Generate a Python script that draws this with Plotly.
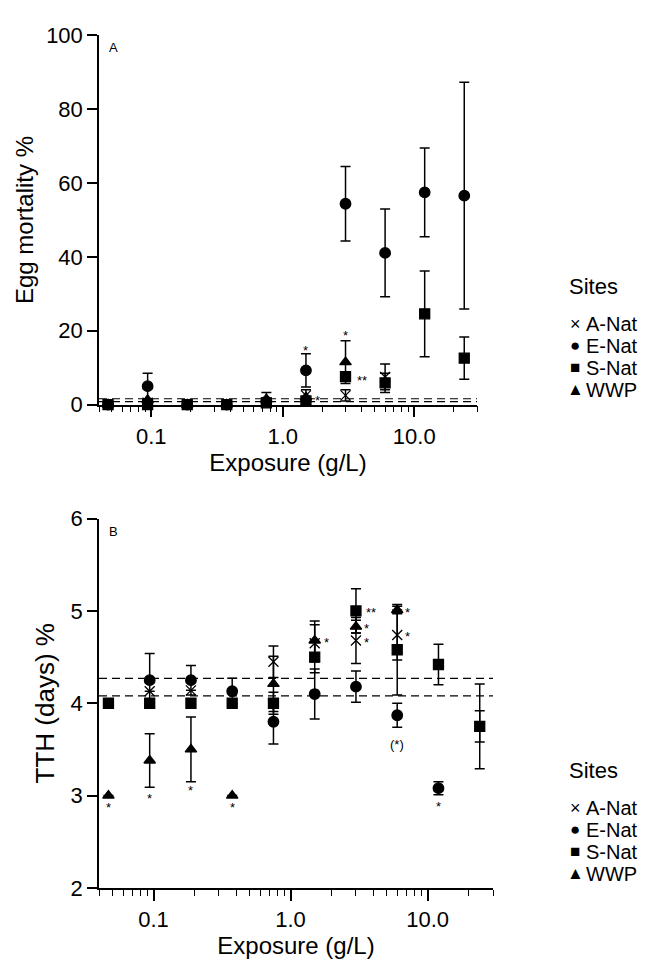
import math
import plotly.graph_objects as go

# ---------------- data ----------------
exposure = [0.046875, 0.09375, 0.1875, 0.375, 0.75, 1.5, 3.0, 6.0, 12.0, 24.0]
sites = ["A-Nat", "E-Nat", "S-Nat", "WWP"]

# Panel A: egg mortality %
mort_a_nat = [0, 0.5, 0, 0, 0.5, 2.5, 2.5, 7.5, None, None]
mort_a_nat_err = [None, None, None, None, None, 1.5, 1.5, 3.5, None, None]
mort_e_nat = [0, 5.0, 0, 0, 0.8, 9.3, 54.4, 41.1, 57.5, 56.6]
mort_e_nat_err = [None, 3.5, None, None, None, 4.5, 10.1, 11.9, 12.0, 30.7]
mort_s_nat = [0, 0, 0, 0, 0.5, 1.0, 7.6, 5.9, 24.6, 12.6]
mort_s_nat_err = [None, None, None, None, None, None, None, 2.6, 11.6, 5.7]
mort_wwp = [0, 1.3, 0, 0, 1.5, 2.0, 11.5, None, None, None]
mort_wwp_err = [None, None, None, None, 1.8, None, 5.8, None, None, None]
mort_control = [0.8, 1.6]

# Panel B: time to hatch (days)
tth_a_nat = [None, 4.13, 4.14, None, 4.45, 4.65, 4.68, 4.74, None, 3.75]
tth_a_nat_err = [None, None, None, None, 0.17, 0.2, 0.25, 0.27, None, 0.17]
tth_e_nat = [None, 4.25, 4.25, 4.13, 3.80, 4.10, 4.18, 3.87, 3.08, None]
tth_e_nat_err = [None, 0.29, 0.16, 0.14, 0.24, 0.27, 0.17, 0.13, 0.07, None]
tth_s_nat = [4.0, 4.0, 4.0, 4.0, 4.0, 4.5, 5.0, 4.58, 4.42, 3.75]
tth_s_nat_err = [None, None, None, None, 0.12, 0.17, 0.24, 0.49, 0.22, 0.46]
tth_wwp = [3.0, 3.38, 3.50, 3.0, 4.21, 4.68, 4.83, 5.01, None, None]
tth_wwp_err = [None, 0.29, 0.35, None, 0.30, 0.21, 0.07, 0.04, None, None]
tth_control = [4.08, 4.27]

# significance marks: (exposure, value, text, horizontal offset px)
mort_marks = [(1.5, 15.3, "*", 0), (1.5, 1.8, "*", 12), (3.0, 19.3, "*", 0), (3.0, 7.0, "**", 16)]
tth_marks = [(0.046875, 2.89, "*", 0), (0.09375, 2.99, "*", 0), (0.1875, 3.08, "*", 0),
             (0.375, 2.89, "*", 0), (1.5, 4.68, "*", 12), (3.0, 5.0, "**", 15),
             (3.0, 4.83, "*", 11), (3.0, 4.68, "*", 11), (6.0, 5.01, "*", 10),
             (6.0, 4.75, "*", 10), (6.0, 3.58, "(*)", 0), (12.0, 2.90, "*", 0)]

major_ticks = [0.1, 1, 10]
major_text = ["0.1", "1.0", "10.0"]
minor_ticks = [0.04, 0.05, 0.06, 0.07, 0.08, 0.09, 0.2, 0.3, 0.4, 0.5, 0.6, 0.7, 0.8, 0.9,
               2, 3, 4, 5, 6, 7, 8, 9, 20, 30]

# ---------------- figure ----------------
FONT = "Liberation Sans, Arial, Helvetica, sans-serif"
fig = go.Figure()

symbols = {"A-Nat": "x-thin-open", "E-Nat": "circle", "S-Nat": "square", "WWP": "triangle-up"}
sizes = {"A-Nat": 10, "E-Nat": 10.5, "S-Nat": 10, "WWP": 10}

mort_series = {"A-Nat": (mort_a_nat, mort_a_nat_err), "E-Nat": (mort_e_nat, mort_e_nat_err),
               "S-Nat": (mort_s_nat, mort_s_nat_err), "WWP": (mort_wwp, mort_wwp_err)}
tth_series = {"A-Nat": (tth_a_nat, tth_a_nat_err), "E-Nat": (tth_e_nat, tth_e_nat_err),
              "S-Nat": (tth_s_nat, tth_s_nat_err), "WWP": (tth_wwp, tth_wwp_err)}

for series, xa, ya in [(mort_series, "x", "y"), (tth_series, "x2", "y2")]:
    for name in sites:
        vals, err = series[name]
        fig.add_trace(go.Scatter(
            x=exposure, y=vals, mode="markers", name=name, xaxis=xa, yaxis=ya,
            showlegend=False, cliponaxis=False,
            marker=dict(symbol=symbols[name], size=sizes[name], color="black",
                        line=dict(color="black", width=1.3)),
            error_y=dict(type="data", array=err, visible=True, color="black",
                         thickness=1.5, width=5),
        ))

# control dashed lines
for lvl in mort_control:
    fig.add_shape(type="line", xref="x domain", yref="y", x0=0, x1=1, y0=lvl, y1=lvl,
                  line=dict(color="black", width=1.2, dash="8px,5px"))
for lvl in tth_control:
    fig.add_shape(type="line", xref="x2 domain", yref="y2", x0=0, x1=1, y0=lvl, y1=lvl,
                  line=dict(color="black", width=1.2, dash="8px,5px"))

# significance marks
for marks, xr, yr in [(mort_marks, "x", "y"), (tth_marks, "x2", "y2")]:
    for xv, yv, txt, dx in marks:
        fig.add_annotation(x=math.log10(xv), y=yv, xref=xr, yref=yr, text=txt,
                           showarrow=False, xshift=dx, yshift=-2, borderpad=0,
                           font=dict(family=FONT, size=13, color="black"))

# panel letters
fig.add_annotation(x=0, y=1, xref="x domain", yref="y domain", text="A", showarrow=False,
                   xanchor="left", yanchor="top", xshift=8, yshift=-3,
                   font=dict(family=FONT, size=13, color="black"))
fig.add_annotation(x=0, y=1, xref="x2 domain", yref="y2 domain", text="B", showarrow=False,
                   xanchor="left", yanchor="top", xshift=8, yshift=-3,
                   font=dict(family=FONT, size=13, color="black"))

# legends (drawn as text blocks)
leg_syms = ["×", "●", "■", "▲"]
leg_sym_size = [18, 17, 17, 17]
for title_px in [282, 779]:
    fig.add_annotation(x=568 / 656, y=1 - title_px / 973, xref="paper", yref="paper",
                       text="Sites", showarrow=False, xanchor="left", yanchor="middle",
                       borderpad=0, font=dict(family=FONT, size=22, color="black"))
    for i, (s, name) in enumerate(zip(leg_syms, sites)):
        ypx = title_px + 38 + i * 22.5
        fig.add_annotation(x=575 / 656, y=1 - ypx / 973, xref="paper", yref="paper",
                           text=s, showarrow=False, xanchor="center", yanchor="middle",
                           borderpad=0, font=dict(family=FONT, size=leg_sym_size[i], color="black"))
        fig.add_annotation(x=585 / 656, y=1 - ypx / 973, xref="paper", yref="paper",
                           text=name, showarrow=False, xanchor="left", yanchor="middle",
                           borderpad=0, font=dict(family=FONT, size=20, color="black"))

xaxis_common = dict(
    type="log", range=[math.log10(0.04), math.log10(30)],
    tickmode="array", tickvals=major_ticks, ticktext=major_text,
    ticks="outside", ticklen=11, tickwidth=1.5, tickcolor="black",
    showline=True, linecolor="black", linewidth=1.5, showgrid=False, zeroline=False,
    tickfont=dict(family=FONT, size=22, color="black"),
    minor=dict(tickmode="array", tickvals=minor_ticks, ticks="outside", ticklen=6,
               tickwidth=1.3, tickcolor="black", showgrid=False),
    title=dict(text="Exposure (g/L)", font=dict(family=FONT, size=24, color="black"), standoff=4),
)
yaxis_common = dict(
    ticks="outside", ticklen=10, tickwidth=1.5, tickcolor="black",
    showline=True, linecolor="black", linewidth=1.5, showgrid=False, zeroline=False,
    tickfont=dict(family=FONT, size=22, color="black"),
)

fig.update_layout(
    width=656, height=973, margin=dict(l=0, r=0, t=0, b=0),
    paper_bgcolor="white", plot_bgcolor="white", showlegend=False,
    xaxis=dict(domain=[99 / 656, 477 / 656], anchor="y", **xaxis_common),
    yaxis=dict(domain=[1 - 403 / 973, 1 - 24 / 973], anchor="x", range=[0, 100],
               tickvals=[0, 20, 40, 60, 80, 100],
               title=dict(text="Egg mortality %", font=dict(family=FONT, size=24, color="black"),
                          standoff=6),
               **yaxis_common),
    xaxis2=dict(domain=[99 / 656, 493 / 656], anchor="y2", **xaxis_common),
    yaxis2=dict(domain=[1 - 899 / 973, 1 - 520 / 973], anchor="x2", range=[2, 6],
                tickvals=[2, 3, 4, 5, 6],
                title=dict(text="TTH (days) %", font=dict(family=FONT, size=26, color="black"),
                           standoff=8),
                **yaxis_common),
)

fig.write_html("out.html", config={"displayModeBar": False},
               post_script="document.body.style.margin='0';")
